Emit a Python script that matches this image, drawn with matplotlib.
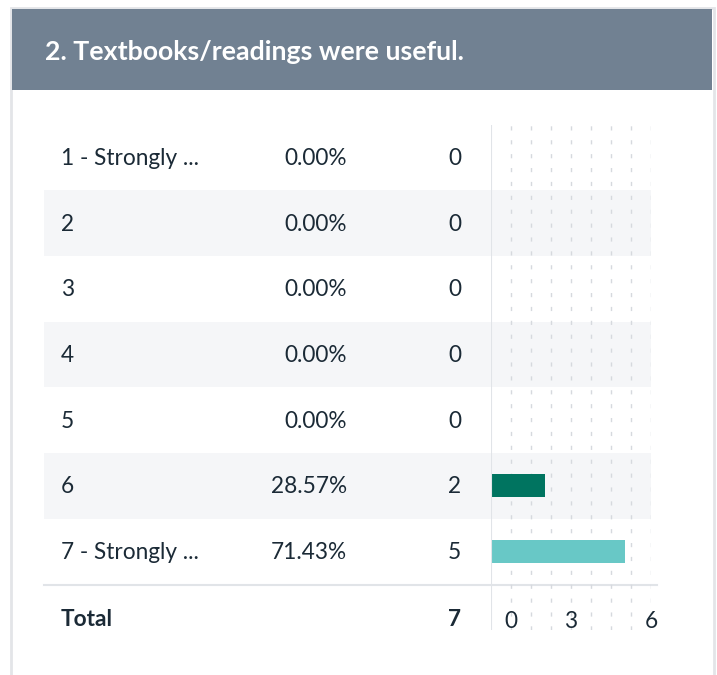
import matplotlib
matplotlib.use("Agg")
import matplotlib.pyplot as plt
from matplotlib.patches import Rectangle

plt.rcParams['font.family'] = ['Lato', 'DejaVu Sans']

title = "2. Textbooks/readings were useful."
labels = ["1 - Strongly ...", "2", "3", "4", "5", "6", "7 - Strongly ..."]
percents = ["0.00%", "0.00%", "0.00%", "0.00%", "0.00%", "28.57%", "71.43%"]
counts = [0, 0, 0, 0, 0, 2, 5]
total = 7
bar_colors = ["#007460", "#007460", "#007460", "#007460", "#007460", "#007460", "#68c8c6"]
grid_x = [0.75, 1.5, 2.25, 3.0, 3.75, 4.5, 5.25, 6.0]
tick_pos = [0.75, 3.0, 6.0]
tick_labels = ["0", "3", "6"]

W, H = 717, 675
TEXT = "#1b2a36"
FS = 16.3
fig = plt.figure(figsize=(W / 100, H / 100), dpi=100)
ax = fig.add_axes([0, 0, 1, 1])
ax.set_xlim(0, W)
ax.set_ylim(H, 0)
ax.axis("off")

# card and header
ax.add_patch(Rectangle((10.5, 7.5), 703, 680, fc="white", ec="#e3e5e8", lw=2))
ax.add_patch(Rectangle((12, 9), 700, 81, fc="#718192", ec="none"))
ax.text(45, 52, title, color="white", fontsize=19.3, fontweight="bold", va="center")

top, rh = 124.5, 65.7
for i, (lab, pct, c) in enumerate(zip(labels, percents, counts)):
    yc = top + rh * (i + 0.5)
    if i % 2 == 1:
        ax.add_patch(Rectangle((44, yc - rh / 2), 607, rh, fc="#f5f6f8", ec="none"))
    ax.text(61, yc + 1, lab, color=TEXT, fontsize=FS, va="center")
    ax.text(347, yc + 1, pct, color=TEXT, fontsize=FS, va="center", ha="right")
    ax.text(461, yc + 1, str(c), color=TEXT, fontsize=FS, va="center", ha="right")

ax.plot([44, 657], [585, 585], color="#e1e4e8", lw=1.5)
ax.text(61, 619, "Total", color=TEXT, fontsize=FS, fontweight="bold", va="center")
ax.text(461, 619, str(total), color=TEXT, fontsize=FS, fontweight="bold", va="center", ha="right")

# bar area
x0, x1 = 491, 651
ybot = 630
bx = fig.add_axes([x0 / W, 1 - ybot / H, (x1 - x0) / W, (ybot - top) / H])
bx.patch.set_alpha(0)
bx.set_xlim(0, 6)
ytop_r = -0.5
ybot_r = (ybot - top) / rh - 0.5
bx.set_ylim(ybot_r, ytop_r)
for s in bx.spines.values():
    s.set_visible(False)
bx.set_xticks([])
bx.set_yticks([])
for gx in grid_x:
    bx.axvline(gx, color="#d6d9de", lw=1, linestyle=(0, (3, 7)), zorder=0)
bx.axvline(0, color="#e1e4e8", lw=1.5, zorder=3)
bx.barh(range(len(counts)), counts, height=23 / rh, color=bar_colors, left=0.03, zorder=2)
for p, t in zip(tick_pos, tick_labels):
    bx.text(p, 7.06, t, color=TEXT, fontsize=FS, ha="center", va="center")

fig.savefig("out.png", dpi=100)
